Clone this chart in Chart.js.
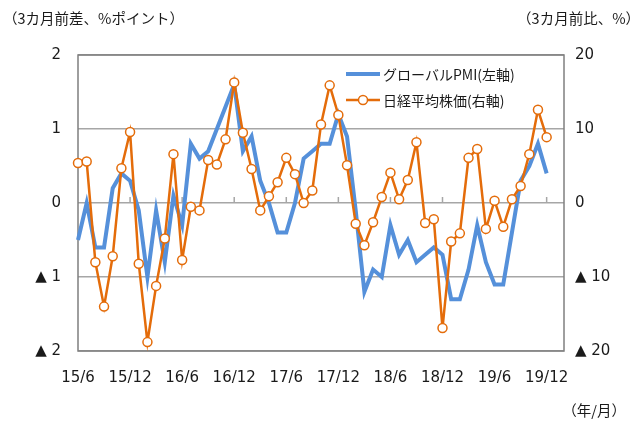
<!DOCTYPE html>
<html lang="ja">
<head>
<meta charset="utf-8">
<script src="https://cdn.jsdelivr.net/npm/chart.js@4.4.0/dist/chart.umd.min.js"></script>
<style>
  html, body { margin: 0; padding: 0; background: #fff; }
  #wrap { position: relative; width: 642px; height: 423px; }
</style>
</head>
<body>
<div id="wrap"><canvas id="myChart"></canvas></div>
<script>
const months = [
  '15/6','15/7','15/8','15/9','15/10','15/11','15/12',
  '16/1','16/2','16/3','16/4','16/5','16/6','16/7','16/8','16/9','16/10','16/11','16/12',
  '17/1','17/2','17/3','17/4','17/5','17/6','17/7','17/8','17/9','17/10','17/11','17/12',
  '18/1','18/2','18/3','18/4','18/5','18/6','18/7','18/8','18/9','18/10','18/11','18/12',
  '19/1','19/2','19/3','19/4','19/5','19/6','19/7','19/8','19/9','19/10','19/11','19/12',
  '20/1','20/2'
]
// グローバルPMI 3カ月前差（左軸）
const pmi = [
  -0.5, 0.0, -0.6, -0.6, 0.2, 0.4, 0.3, -0.1, -1.0, -0.1,
  -0.8, 0.1, -0.3, 0.8, 0.6, 0.7, 1.0, 1.3, 1.6, 0.7,
  0.9, 0.3, 0.0, -0.4, -0.4, 0.0, 0.6, 0.7, 0.8, 0.8,
  1.2, 0.9, -0.1, -1.2, -0.9, -1.0, -0.3, -0.7, -0.5, -0.8,
  -0.7, -0.6, -0.7, -1.3, -1.3, -0.9, -0.3, -0.8, -1.1, -1.1,
  -0.4, 0.3, 0.5, 0.8, 0.4
]
// 日経平均株価 3カ月前比（右軸）
const nikkei = [
  5.4, 5.6, -8.0, -14.0, -7.2, 4.7, 9.6, -8.2, -18.8, -11.2,
  -4.8, 6.6, -7.7, -0.5, -1.0, 5.8, 5.2, 8.6, 16.3, 9.5,
  4.6, -1.0, 0.9, 2.8, 6.1, 3.9, 0.0, 1.7, 10.6, 15.9,
  11.9, 5.1, -2.8, -5.7, -2.6, 0.8, 4.1, 0.5, 3.1, 8.2,
  -2.7, -2.2, -16.9, -5.2, -4.1, 6.1, 7.3, -3.5, 0.3, -3.2,
  0.5, 2.3, 6.6, 12.6, 8.9
]
const xTickLabels = ['15/6','15/12','16/6','16/12','17/6','17/12','18/6','18/12','19/6','19/12']
const leftTicks = [2, 1, 0, -1, -2]
const leftTickText = ['2', '1', '0', '▲ 1', '▲ 2']
const rightTicks = [20, 10, 0, -10, -20]
const rightTickText = ['20', '10', '0', '▲ 10', '▲ 20']

const blue = '#5590DA'
const orange = '#E46C0A'
const textColor = '#1a1a1a'
const numFont = "'DejaVu Sans', 'Noto Sans CJK JP', sans-serif"
const jpFont = "'Noto Sans CJK JP', 'DejaVu Sans', sans-serif"

// frame, zero-line ticks, titles and legend
const decor = {
  id: 'decor',
  beforeDatasetsDraw(chart) {
    const {ctx, chartArea: a, scales} = chart
    ctx.save()
    // small tick marks on the zero line
    const y0 = scales.y.getPixelForValue(0)
    ctx.strokeStyle = '#a6a6a6'
    ctx.lineWidth = 1.5
    months.forEach((m, i) => {
      if (xTickLabels.includes(m) && i > 0) {
        const x = scales.x.getPixelForValue(i)
        ctx.beginPath()
        ctx.moveTo(x, y0)
        ctx.lineTo(x, y0 - 6)
        ctx.stroke()
      }
    })
    // plot frame
    ctx.strokeStyle = '#7f7f7f'
    ctx.lineWidth = 1.5
    ctx.strokeRect(a.left, a.top, a.right - a.left, a.bottom - a.top)
    ctx.restore()
  },
  afterDraw(chart) {
    const {ctx, chartArea: a, width} = chart
    ctx.save()
    ctx.fillStyle = textColor
    ctx.font = '14.5px ' + jpFont
    ctx.textBaseline = 'middle'
    ctx.textAlign = 'left'
    ctx.fillText('（3カ月前差、%ポイント）', 3, 18)
    ctx.textAlign = 'right'
    ctx.fillText('（3カ月前比、%）', width - 2, 18)
    ctx.fillText('（年/月）', width - 16, 410)

    // legend
    const lx = a.right - 218
    const ds = chart.data.datasets
    let ly = a.top + 19
    ctx.textAlign = 'left'
    ctx.font = '14px ' + jpFont
    ds.forEach(d => {
      ctx.strokeStyle = d.borderColor
      ctx.lineWidth = d.borderWidth
      ctx.beginPath()
      ctx.moveTo(lx, ly)
      ctx.lineTo(lx + 34, ly)
      ctx.stroke()
      if (d.pointRadius > 0) {
        ctx.beginPath()
        ctx.arc(lx + 17, ly, d.pointRadius, 0, Math.PI * 2)
        ctx.fillStyle = d.pointBackgroundColor
        ctx.fill()
        ctx.lineWidth = d.pointBorderWidth
        ctx.stroke()
      }
      ctx.fillStyle = textColor
      ctx.fillText(d.label, lx + 37, ly + 1)
      ly += 26
    })
    ctx.restore()
  }
}

const data = {
  labels: months,
  datasets: [
    {
      label: 'グローバルPMI(左軸)',
      data: pmi,
      yAxisID: 'y',
      borderColor: blue,
      backgroundColor: blue,
      borderWidth: 4,
      pointRadius: 0,
      tension: 0,
      order: 2
    },
    {
      label: '日経平均株価(右軸)',
      data: nikkei,
      yAxisID: 'y2',
      borderColor: orange,
      backgroundColor: orange,
      borderWidth: 2.5,
      pointRadius: 4.5,
      pointBackgroundColor: '#ffffff',
      pointBorderColor: orange,
      pointBorderWidth: 1.5,
      tension: 0,
      order: 1
    }
  ]
}

const config = {
  type: 'line',
  data,
  options: {
    responsive: true,
    maintainAspectRatio: false,
    animation: false,
    devicePixelRatio: 1,
    layout: { padding: { top: 55, left: 0, right: 0, bottom: 0 } },
    plugins: {
      legend: { display: false },
      tooltip: { enabled: false }
    },
    scales: {
      x: {
        type: 'category',
        offset: false,
        grid: { display: false, drawTicks: false },
        border: { display: false },
        afterFit: s => { s.height = 72 },
        ticks: {
          autoSkip: false,
          maxRotation: 0,
          padding: 18,
          color: textColor,
          font: { family: numFont, size: 15 },
          callback: function(val, i) {
            const lab = months[i]
            return xTickLabels.includes(lab) ? lab : ''
          }
        }
      },
      y: {
        position: 'left',
        min: -2,
        max: 2,
        afterFit: s => { s.width = 78 },
        afterBuildTicks: s => { s.ticks = leftTicks.map(v => ({value: v})) },
        grid: { color: '#a6a6a6', lineWidth: 1.5, drawTicks: false },
        border: { display: false },
        ticks: {
          padding: 17,
          color: textColor,
          font: { family: numFont, size: 15 },
          callback: v => leftTickText[leftTicks.indexOf(v)]
        }
      },
      y2: {
        position: 'right',
        min: -20,
        max: 20,
        afterFit: s => { s.width = 78 },
        afterBuildTicks: s => { s.ticks = rightTicks.map(v => ({value: v})) },
        grid: { display: false, drawTicks: false },
        border: { display: false },
        ticks: {
          padding: 11,
          color: textColor,
          font: { family: numFont, size: 15 },
          callback: v => rightTickText[rightTicks.indexOf(v)]
        }
      }
    }
  },
  plugins: [decor]
}

const myChart = new Chart(document.getElementById('myChart'), config)
</script>
</body>
</html>
